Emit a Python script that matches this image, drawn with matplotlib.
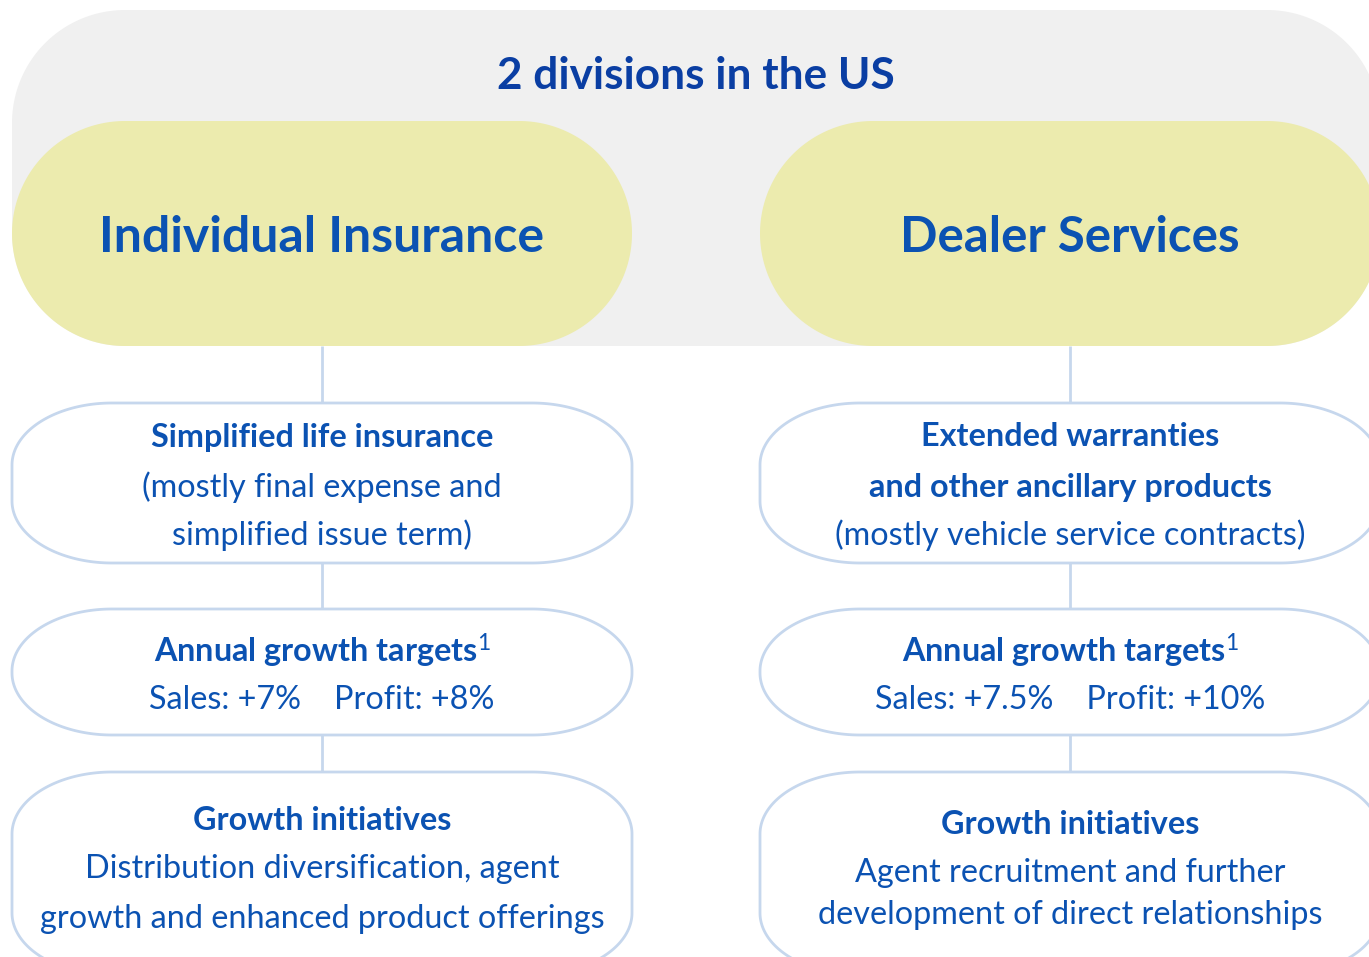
import matplotlib
matplotlib.use("Agg")
import matplotlib.pyplot as plt
import numpy as np
from matplotlib.patches import Polygon

plt.rcParams['font.family'] = ['Lato', 'DejaVu Sans']
plt.rcParams['mathtext.fontset'] = 'custom'
plt.rcParams['mathtext.rm'] = 'Lato'
plt.rcParams['mathtext.it'] = 'Lato:italic'
plt.rcParams['mathtext.bf'] = 'Lato:bold'

# ---- content ----
header = "2 divisions in the US"
divisions = ["Individual Insurance", "Dealer Services"]
products_bold = [["Simplified life insurance"],
                 ["Extended warranties", "and other ancillary products"]]
products_note = [["(mostly final expense and", "simplified issue term)"],
                 ["(mostly vehicle service contracts)"]]
targets_title = "Annual growth targets"
targets_footnote = "1"
sales_targets = ["+7%", "+7.5%"]
profit_targets = ["+8%", "+10%"]
initiatives_title = "Growth initiatives"
initiatives = [["Distribution diversification, agent", "growth and enhanced product offerings"],
               ["Agent recruitment and further", "development of direct relationships"]]

# ---- style ----
W, H = 1369, 957
GRAY = '#f0f0f0'
YELLOW = '#ecebae'
BORDER = '#c6d7ed'
TITLE_C = '#0a3ea3'
TEXT_C = '#0b52b2'
FS = 23.3
DY = 2  # small baseline nudge

fig = plt.figure(figsize=(W / 100, H / 100), dpi=100)
ax = fig.add_axes([0, 0, 1, 1])
ax.set_xlim(0, W)
ax.set_ylim(H, 0)
ax.axis('off')


def rrect(x0, y0, x1, y1, rx, ry, n=60):
    pts = []
    for cx, cy, a0 in [(x0 + rx, y0 + ry, np.pi), (x1 - rx, y0 + ry, 1.5 * np.pi),
                       (x1 - rx, y1 - ry, 0.0), (x0 + rx, y1 - ry, 0.5 * np.pi)]:
        t = np.linspace(a0, a0 + 0.5 * np.pi, n)
        pts.append(np.column_stack([cx + rx * np.cos(t), cy + ry * np.sin(t)]))
    return np.vstack(pts)


# background gray band
ax.add_patch(Polygon(rrect(12, 10, 1380, 346, 113, 113), closed=True,
                     facecolor=GRAY, edgecolor='none', zorder=1))
ax.text(696, 76, header, ha='center', va='center', fontsize=31.8,
        fontweight='bold', color=TITLE_C, zorder=5)

centers = [322, 1070]
div_sizes = [36, 35.5]
half_w = 310
box_rows = [(403, 563), (609, 735), (772, 975)]

for i, cx in enumerate(centers):
    # yellow pill
    ax.add_patch(Polygon(rrect(cx - half_w, 121, cx + half_w, 346, 113, 112.5), closed=True,
                         facecolor=YELLOW, edgecolor='none', zorder=2))
    ax.text(cx, 237, divisions[i], ha='center', va='center', fontsize=div_sizes[i],
            fontweight='bold', color=TEXT_C, zorder=5)
    # connectors
    prev = 346
    for (y0, y1) in box_rows:
        ax.plot([cx, cx], [prev, y0], color=BORDER, lw=2, zorder=2,
                solid_capstyle='butt')
        prev = y1
    # boxes
    for (y0, y1) in box_rows:
        ax.add_patch(Polygon(rrect(cx - half_w, y0, cx + half_w, y1, 100, 62), closed=True,
                             facecolor='white', edgecolor=BORDER, lw=2, zorder=3))

    # box 1 text
    lines = [(t, 'bold') for t in products_bold[i]] + [(t, 'normal') for t in products_note[i]]
    ys = [435, 485, 533]
    for (t, w), y in zip(lines, ys):
        ax.text(cx, y + DY, t, ha='center', va='center', fontsize=FS, fontweight=w,
                color=TEXT_C, zorder=5)

    # box 2 text
    ax.text(cx, 649 + DY, targets_title + r"$^{\mathrm{" + targets_footnote + "}}$",
            ha='center', va='center', fontsize=FS, fontweight='bold',
            color=TEXT_C, zorder=5)
    ax.text(cx, 698 + DY, f"Sales: {sales_targets[i]}    Profit: {profit_targets[i]}",
            ha='center', va='center', fontsize=FS, color=TEXT_C, zorder=5)

    # box 3 text
    if i == 0:
        ys3 = [818, 867, 917]
    else:
        ys3 = [822, 871, 913]
    ax.text(cx, ys3[0] + DY, initiatives_title, ha='center', va='center', fontsize=FS,
            fontweight='bold', color=TEXT_C, zorder=5)
    for t, y in zip(initiatives[i], ys3[1:]):
        ax.text(cx, y + DY, t, ha='center', va='center', fontsize=FS, color=TEXT_C, zorder=5)

fig.savefig('out.png', dpi=100)
